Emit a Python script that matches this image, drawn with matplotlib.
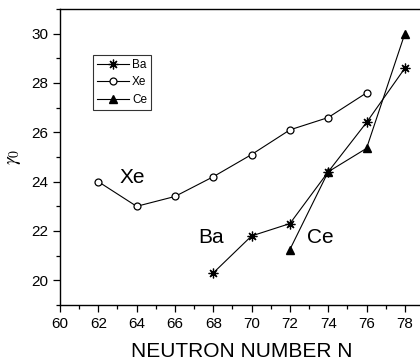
import matplotlib
matplotlib.use('Agg')
import matplotlib.pyplot as plt
from matplotlib.ticker import MultipleLocator

plt.rcParams['font.family'] = ['Liberation Sans', 'DejaVu Sans']
plt.rcParams['mathtext.fontset'] = 'stix'

# values
n_ba = [68, 70, 72, 74, 76, 78]
g_ba = [20.3, 21.8, 22.3, 24.4, 26.4, 28.6]

n_xe = [62, 64, 66, 68, 70, 72, 74, 76]
g_xe = [24.0, 23.0, 23.4, 24.2, 25.1, 26.1, 26.6, 27.6]

n_ce = [72, 74, 76, 78]
g_ce = [21.25, 24.4, 25.35, 30.0]

fig = plt.figure(figsize=(4.2, 3.62), dpi=100)
ax = fig.add_axes([60/420, 1 - 305/362, 364/420, 296/362])

ax.plot(n_ba, g_ba, color='black', lw=0.8, marker=(8, 2, 0), ms=7, mew=0.9, label='Ba')
ax.plot(n_xe, g_xe, color='black', lw=0.8, marker='o', ms=5, mfc='white', mew=0.9, label='Xe')
ax.plot(n_ce, g_ce, color='black', lw=0.8, marker='^', ms=5.5, label='Ce')

# curve labels
ax.text(63.1, 23.95, 'Xe', fontsize=15)
ax.text(67.2, 21.5, 'Ba', fontsize=15)
ax.text(72.9, 21.5, 'Ce', fontsize=15)

ax.set_xlim(60, 79)
ax.set_ylim(19, 31)
ax.xaxis.set_major_locator(MultipleLocator(2))
ax.xaxis.set_minor_locator(MultipleLocator(1))
ax.yaxis.set_major_locator(MultipleLocator(2))
ax.yaxis.set_minor_locator(MultipleLocator(1))
ax.tick_params(which='both', direction='out', labelsize=11, width=0.9)
ax.tick_params(which='major', length=5)
ax.tick_params(which='minor', length=3)
for s in ax.spines.values():
    s.set_linewidth(1.0)

ax.set_xlabel('NEUTRON NUMBER N', fontsize=15, labelpad=8)
ax.set_ylabel(r'$\gamma_0$', fontsize=14, labelpad=6)

leg = ax.legend(loc='upper left', bbox_to_anchor=(33/364, 1 - 46/296), fontsize=8.5,
                frameon=True, fancybox=False, edgecolor='black', handlelength=2.7,
                handletextpad=0.25, labelspacing=0.45, borderpad=0.35, borderaxespad=0)
leg.get_frame().set_linewidth(0.8)

fig.savefig('out.png', dpi=100)
